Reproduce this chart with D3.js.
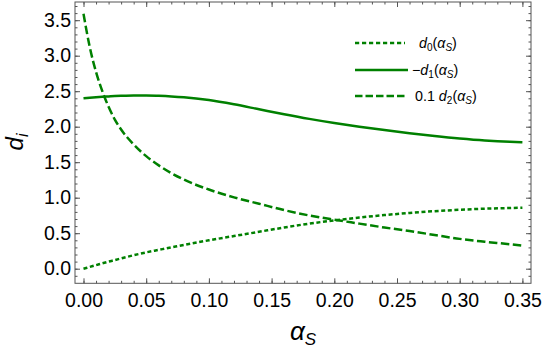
<!DOCTYPE html>
<html><head><meta charset="utf-8">
<script src="https://cdn.jsdelivr.net/npm/d3@7"></script>
<style>
body{margin:0;background:#fff;}
text{font-family:"Liberation Sans",Arial,sans-serif;}
</style></head>
<body><svg id="c" width="545" height="352"></svg>
<script>
// ---- data ----
const alphaS = [0, 0.005, 0.01, 0.015, 0.02, 0.025, 0.03, 0.04, 0.05, 0.06, 0.07, 0.08, 0.10, 0.12, 0.14, 0.16, 0.18, 0.20, 0.22, 0.24, 0.26, 0.28, 0.30, 0.32, 0.34, 0.35];
const d0 =     [0, 0.025, 0.05, 0.075, 0.10, 0.122, 0.145, 0.19, 0.23, 0.265, 0.30, 0.335, 0.40, 0.46, 0.52, 0.58, 0.635, 0.68, 0.72, 0.755, 0.785, 0.81, 0.83, 0.845, 0.855, 0.86];
const minusD1 = [2.40, 2.408, 2.415, 2.421, 2.426, 2.431, 2.435, 2.44, 2.44, 2.435, 2.427, 2.415, 2.375, 2.315, 2.245, 2.175, 2.11, 2.052, 2.00, 1.952, 1.908, 1.868, 1.833, 1.805, 1.787, 1.782];
const tenthD2 = [3.59, 3.12, 2.77, 2.50, 2.28, 2.10, 1.96, 1.75, 1.585, 1.455, 1.345, 1.255, 1.115, 1.005, 0.915, 0.825, 0.75, 0.69, 0.635, 0.58, 0.53, 0.475, 0.42, 0.38, 0.345, 0.325];
const xTicks = [0, 0.05, 0.10, 0.15, 0.20, 0.25, 0.30, 0.35];
const yTicks = [0, 0.5, 1.0, 1.5, 2.0, 2.5, 3.0, 3.5];
const seriesNames = ["d0", "-d1", "0.1 d2"];

const green = "rgb(0,128,0)";
const frameCol = "#555";
const L = 75, R = 531, T = 2, B = 283.3;

const svg = d3.select("#c");
const x = d3.scaleLinear().domain([-8.5/1254, 0.35 + 8.6/1254]).range([L, R]);
const y = d3.scaleLinear().domain([-(B - 268.7)/71, (268.7 - T)/71]).range([B, T]);

const xMinor = d3.range(0, 36).map(i => i/100);
const yMinor = d3.range(-1, 38).map(i => i/10);

function styleAxis(g){
  g.select(".domain").remove();
  g.selectAll(".tick line").attr("stroke", frameCol).attr("stroke-width", 1);
  g.selectAll(".tick text").attr("fill", "#000").attr("font-size", 19.5)
    .attr("font-family", "'Liberation Sans',Arial,sans-serif");
}

// minor ticks
svg.append("g").attr("transform", `translate(0,${B})`)
  .call(d3.axisBottom(x).tickValues(xMinor).tickSizeInner(-2.5).tickSizeOuter(0).tickFormat(""))
  .call(styleAxis);
svg.append("g").attr("transform", `translate(0,${T})`)
  .call(d3.axisTop(x).tickValues(xMinor).tickSizeInner(-2.5).tickSizeOuter(0).tickFormat(""))
  .call(styleAxis);
svg.append("g").attr("transform", `translate(${L},0)`)
  .call(d3.axisLeft(y).tickValues(yMinor).tickSizeInner(-2.5).tickSizeOuter(0).tickFormat(""))
  .call(styleAxis);
svg.append("g").attr("transform", `translate(${R},0)`)
  .call(d3.axisRight(y).tickValues(yMinor).tickSizeInner(-2.5).tickSizeOuter(0).tickFormat(""))
  .call(styleAxis);

// major ticks
svg.append("g").attr("transform", `translate(0,${B})`)
  .call(d3.axisBottom(x).tickValues(xTicks).tickSizeInner(-5).tickSizeOuter(0).tickPadding(9.5).tickFormat(d3.format(".2f")))
  .call(styleAxis);
svg.append("g").attr("transform", `translate(0,${T})`)
  .call(d3.axisTop(x).tickValues(xTicks).tickSizeInner(-5).tickSizeOuter(0).tickFormat(""))
  .call(styleAxis);
svg.append("g").attr("transform", `translate(${L},0)`)
  .call(d3.axisLeft(y).tickValues(yTicks).tickSizeInner(-5).tickSizeOuter(0).tickPadding(4).tickFormat(d3.format(".1f")))
  .call(styleAxis);
svg.append("g").attr("transform", `translate(${R},0)`)
  .call(d3.axisRight(y).tickValues(yTicks).tickSizeInner(-5).tickSizeOuter(0).tickFormat(""))
  .call(styleAxis);

// frame
svg.append("rect").attr("x", L).attr("y", T).attr("width", R - L).attr("height", B - T)
  .attr("fill", "none").attr("stroke", frameCol).attr("stroke-width", 1);

// curves
svg.append("clipPath").attr("id", "clip").append("rect")
  .attr("x", L).attr("y", T).attr("width", R - L).attr("height", B - T);
const styles = [
  {data: d0, dash: "4,2.6"},
  {data: minusD1, dash: null},
  {data: tenthD2, dash: "8.5,3.5"}
];
const line = d3.line().x(d => x(d[0])).y(d => y(d[1])).curve(d3.curveMonotoneX);
const plot = svg.append("g").attr("clip-path", "url(#clip)");
styles.forEach(s => {
  plot.append("path")
    .datum(alphaS.map((a, i) => [a, s.data[i]]))
    .attr("d", line)
    .attr("fill", "none").attr("stroke", green).attr("stroke-width", 2.5)
    .attr("stroke-dasharray", s.dash);
});

// legend
const legRows = [
  {y: 43, dash: "4.2,2.8", tx: 419, parts: [["", "d", true], ["sub", "0", false], ["", "(", false], ["", "α", true], ["sub", "S", true], ["", ")", false]]},
  {y: 70, dash: null, tx: 412, len: 53, parts: [["", "−", false], ["", "d", true], ["sub", "1", false], ["", "(", false], ["", "α", true], ["sub", "S", true], ["", ")", false]]},
  {y: 96, dash: "7.5,3", tx: 415, parts: [["", "0.1 ", false], ["", "d", true], ["sub", "2", false], ["", "(", false], ["", "α", true], ["sub", "S", true], ["", ")", false]]}
];
const leg = svg.append("g");
legRows.forEach((r, i) => {
  leg.append("line").attr("x1", 355).attr("x2", 355 + (r.len || 50)).attr("y1", r.y).attr("y2", r.y)
    .attr("stroke", green).attr("stroke-width", 2.5).attr("stroke-dasharray", r.dash)
    .attr("data-series", seriesNames[i]);
  const t = leg.append("text").attr("x", r.tx).attr("y", r.y + 4.5).attr("font-size", 14.3).attr("fill", "#000");
  let prevSub = false;
  r.parts.forEach(p => {
    const isSub = p[0] === "sub";
    const ts = t.append("tspan").text(p[1]);
    if (p[2]) ts.attr("font-style", "italic");
    if (isSub) ts.attr("font-size", 10);
    ts.attr("dy", isSub && !prevSub ? 3 : (!isSub && prevSub ? -3 : 0));
    prevSub = isSub;
  });
});

// axis titles
const xt = svg.append("text").attr("x", 303).attr("y", 340).attr("text-anchor", "middle")
  .attr("font-size", 26).attr("fill", "#000");
xt.append("tspan").attr("font-style", "italic").text("α");
xt.append("tspan").attr("font-style", "italic").attr("font-size", 17).attr("dy", 5).text("S");

const yt = svg.append("text").attr("transform", "translate(23,142) rotate(-90)").attr("text-anchor", "middle")
  .attr("font-size", 24).attr("fill", "#000");
yt.append("tspan").attr("font-style", "italic").text("d");
yt.append("tspan").attr("font-style", "italic").attr("font-size", 16).attr("dy", 5).text("i");
</script></body></html>
